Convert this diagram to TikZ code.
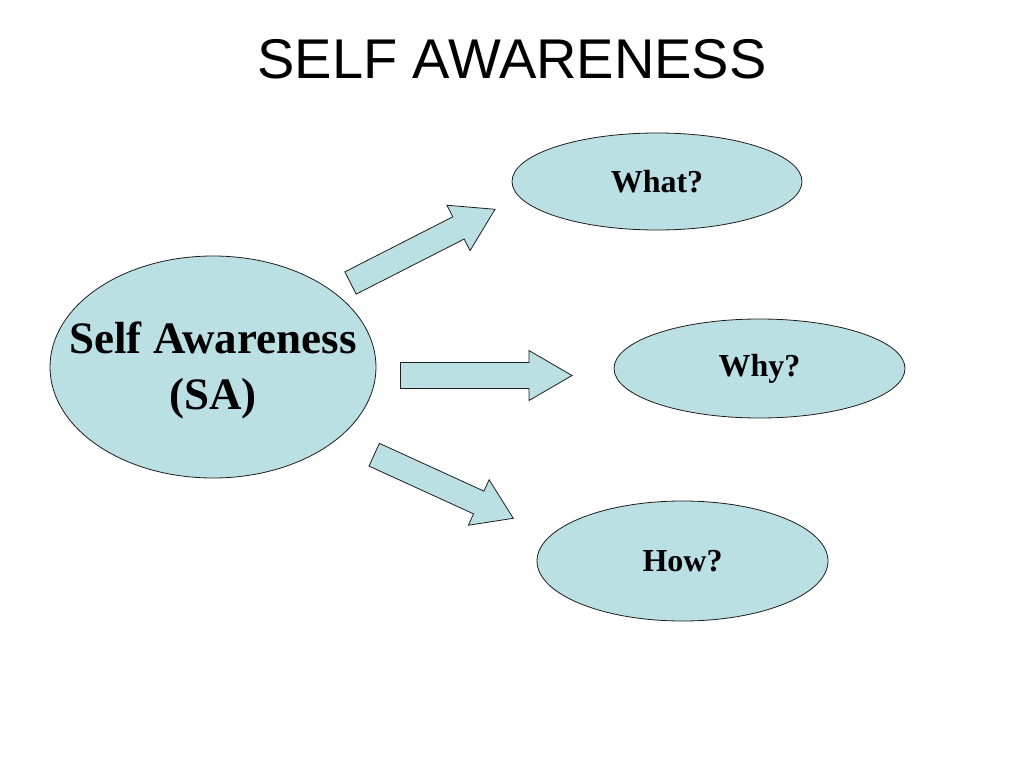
\documentclass[tikz,border=0pt]{standalone}
\usepackage{fontspec}
\setmainfont{Liberation Serif}
\newfontfamily\titlefont{Liberation Sans}
\usetikzlibrary{calc,shapes.geometric}
\definecolor{bubble}{RGB}{187,224,228}
\definecolor{edge}{RGB}{30,30,30}
\tikzset{
  bubblenode/.style={ellipse, draw=edge, fill=bubble, line width=0.8pt, inner sep=0pt},
  smalltext/.style={font=\fontsize{32}{34}\selectfont\bfseries},
  blockarrow/.style={draw=edge, fill=bubble, line width=0.8pt, line join=miter},
}
\newcommand{\myblockarrow}[5]{%
  \coordinate (#1h) at ($(#2)!#5!(#1)$);
  \draw[blockarrow] ($(#1)!#3!90:(#2)$) -- ($(#1h)!#3!-90:(#1)$) -- ($(#1h)!#4!-90:(#1)$) -- (#2)
    -- ($(#1h)!#4!90:(#1)$) -- ($(#1h)!#3!90:(#1)$) -- ($(#1)!#3!-90:(#2)$) -- cycle;
}
\begin{document}
\begin{tikzpicture}[x=1pt,y=-1pt]
\path[use as bounding box, fill=white] (0,0) rectangle (1024,768);
\node (title) at (512,59) {\titlefont\fontsize{56}{60}\selectfont SELF AWARENESS};
\node[bubblenode, minimum width=326pt, minimum height=222pt] (sa) at (213,367) {};
\node[align=center, inner sep=0pt, font=\fontsize{45}{56}\selectfont\bfseries] (satext) at ([yshift=-3pt]sa.center) {Self Awareness\\(SA)};
\node[bubblenode, minimum width=290pt, minimum height=97pt, smalltext] (what) at (657,181.5) {What?};
\node[bubblenode, minimum width=291pt, minimum height=99pt, smalltext] (why) at (759.5,368.5) {Why?};
\node[bubblenode, minimum width=291pt, minimum height=120pt, smalltext] (how) at (682.5,561) {How?};
\coordinate (a1) at (350.5,283);
\coordinate (a1p) at (495,209.3);
\coordinate (a2) at (400.5,375.5);
\coordinate (a2p) at (572,375.5);
\coordinate (a3) at (374.2,454.7);
\coordinate (a3p) at (513.3,518.3);
\myblockarrow{a1}{a1p}{12.5pt}{25.5pt}{41pt}
\myblockarrow{a2}{a2p}{13pt}{25pt}{43pt}
\myblockarrow{a3}{a3p}{12.5pt}{25pt}{38pt}
\end{tikzpicture}
\end{document}
